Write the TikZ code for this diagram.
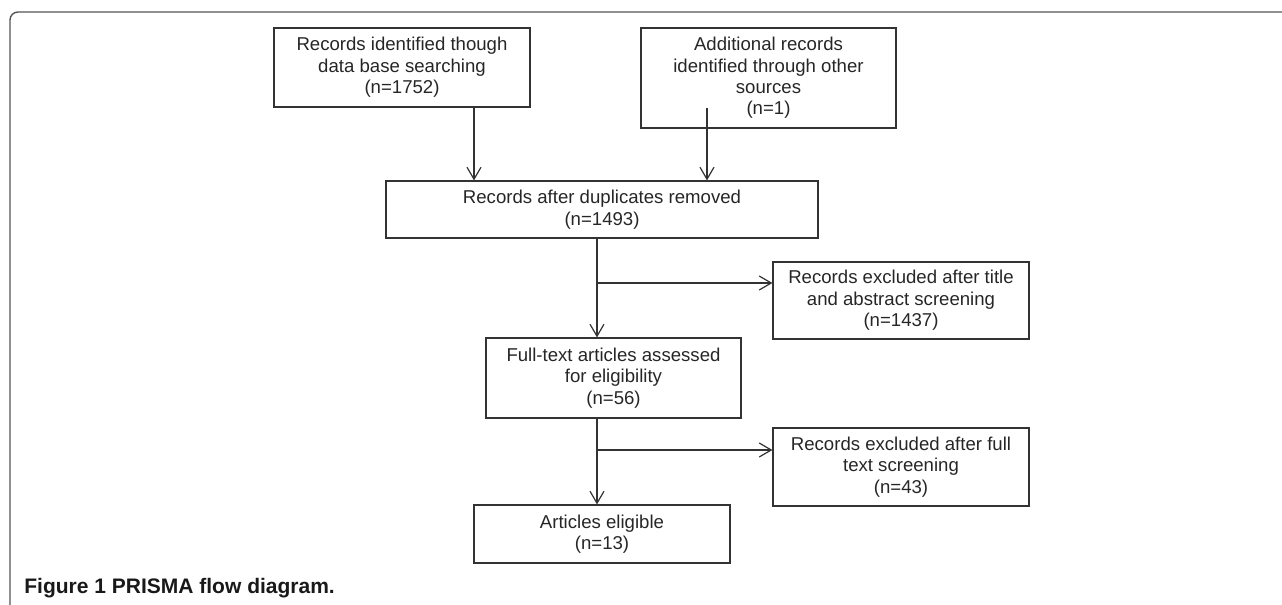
\documentclass[tikz,border=0pt]{standalone}
\usepackage{fontspec}
\setmainfont{Liberation Sans}
\newfontfamily\capfont{Liberation Sans Bold}
\usetikzlibrary{arrows.meta,calc}
\definecolor{linegray}{HTML}{333333}
\definecolor{framegray}{HTML}{555555}
\tikzset{
  >={Straight Barb[length=6pt,width=7pt]},
  flowbox/.style={
    rectangle,
    draw=linegray, line width=0.6pt,
    align=center,
    inner sep=0pt,
    font=\fontsize{9.3}{10.7}\selectfont,
    text=black!85},
  line/.style={draw=linegray, line width=0.6pt, ->},
}

\begin{document}
\begin{tikzpicture}[x=0.5pt,y=-0.5pt]
  \useasboundingbox (0,0) rectangle (1282,605);
  % frame of the figure
  \draw[framegray, line width=0.7pt, rounded corners=4pt] (1282,12) -- (10,12) -- (10,605);

  \node[flowbox, minimum width=128pt, minimum height=39.5pt] (dbsearch) at (402,67.5)
    {Records identified though\\data base searching\\(n=1752)};
  \node[flowbox, minimum width=127.5pt, minimum height=50pt] (othersrc) at (768.5,78)
    {Additional records\\identified through other\\sources\\(n=1)};
  \node[flowbox, minimum width=216pt, minimum height=28.5pt] (dupremoved) at (602,209.5)
    {Records after duplicates removed\\(n=1493)};
  \node[flowbox, minimum width=128pt, minimum height=38.5pt] (exclabstract) at (901,300.5)
    {Records excluded after title\\and abstract screening\\(n=1437)};
  \node[flowbox, minimum width=127.5pt, minimum height=40pt] (fulltext) at (613.5,378)
    {Full-text articles assessed\\for eligibility\\(n=56)};
  \node[flowbox, minimum width=128pt, minimum height=39pt] (exclfull) at (901,467)
    {Records excluded after full\\text screening\\(n=43)};
  \node[flowbox, minimum width=128pt, minimum height=29pt] (eligible) at (602,534)
    {Articles eligible\\(n=13)};

  \coordinate (split1) at (597,283);
  \coordinate (split2) at (597,450);

  \path[line] ([xshift=36pt]dbsearch.south) -- ([xshift=36pt]dbsearch.south |- dupremoved.north);
  \path[line] ([xshift=-30.75pt]othersrc.center |- dbsearch.south) -- ([xshift=-30.75pt]othersrc.center |- dupremoved.north);
  \path[line] (dupremoved.south -| split1) -- (fulltext.north -| split1);
  \path[line] (split1) -- (split1 -| exclabstract.west);
  \path[line] (fulltext.south -| split2) -- (eligible.north -| split2);
  \path[line] (split2) -- (split2 -| exclfull.west);

  \node[anchor=base west, inner sep=0pt, text=black!90,
        font=\capfont\fontsize{10.5}{12}\selectfont] (caption) at (24,593)
    {Figure 1 PRISMA flow diagram.};
\end{tikzpicture}
\end{document}
